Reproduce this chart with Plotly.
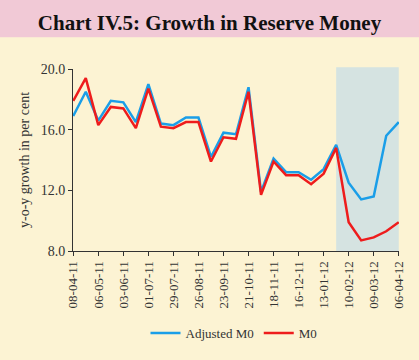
import plotly.graph_objects as go

dates = ["08-04-11", "22-04-11", "06-05-11", "20-05-11", "03-06-11", "17-06-11",
         "01-07-11", "15-07-11", "29-07-11", "12-08-11", "26-08-11", "09-09-11",
         "23-09-11", "07-10-11", "21-10-11", "04-11-11", "18-11-11", "02-12-11",
         "16-12-11", "30-12-11", "13-01-12", "27-01-12", "10-02-12", "24-02-12",
         "09-03-12", "23-03-12", "06-04-12"]
adjusted_m0 = [16.9, 18.5, 16.6, 17.9, 17.8, 16.5, 19.0, 16.4, 16.3, 16.8, 16.8, 14.2,
               15.8, 15.7, 18.8, 11.9, 14.1, 13.2, 13.2, 12.7, 13.4, 15.0, 12.5, 11.4,
               11.6, 15.6, 16.5]
m0 = [17.9, 19.4, 16.3, 17.5, 17.4, 16.1, 18.7, 16.2, 16.1, 16.5, 16.5, 13.9,
      15.5, 15.4, 18.5, 11.7, 13.9, 13.0, 13.0, 12.4, 13.1, 14.8, 9.9, 8.7,
      8.9, 9.3, 9.9]
shade_start, shade_end = "27-01-12", "06-04-12"

idx = list(range(len(dates)))
W, H = 419, 360
L, R, T, B = 73, 20, 69, 107
pw, ph = W - L - R, H - T - B

fig = go.Figure()
fig.add_trace(go.Scatter(x=idx, y=adjusted_m0, mode="lines", name="Adjusted M0",
                         line=dict(color="#1a9ee8", width=2.5)))
fig.add_trace(go.Scatter(x=idx, y=m0, mode="lines", name="M0",
                         line=dict(color="#ee1c1c", width=2.5)))

serif = "Liberation Serif, Times New Roman, serif"
fig.update_layout(
    width=W, height=H,
    margin=dict(l=L, r=R, t=T, b=B),
    paper_bgcolor="#fcf3d3",
    plot_bgcolor="rgba(0,0,0,0)",
    font=dict(family=serif, size=13, color="#333333"),
    title=dict(text="<b>Chart IV.5: Growth in Reserve Money</b>",
               x=0.5, xanchor="center", xref="container",
               y=1 - 23 / H, yanchor="middle", yref="container",
               font=dict(family=serif, size=21, color="#111111")),
    showlegend=True,
    legend=dict(orientation="h", x=(234 - L) / pw, xanchor="center",
                y=-(336 - 253) / ph, yanchor="middle",
                bgcolor="rgba(0,0,0,0)", font=dict(size=13, color="#333333"),
                itemwidth=30, tracegroupgap=0),
    shapes=[
        dict(type="rect", xref="paper", yref="paper",
             x0=-L / pw - 0.01, x1=1 + R / pw + 0.01,
             y0=1 + (T - 37) / ph, y1=1 + T / ph + 0.01,
             fillcolor="#f1c9d6", line=dict(width=0), layer="below"),
        dict(type="rect", xref="x", yref="paper",
             x0=dates.index(shade_start), x1=dates.index(shade_end),
             y0=0, y1=1.01,
             fillcolor="#d5e3e1", line=dict(width=0), layer="below"),
    ],
)
fig.update_xaxes(range=[-0.02, 26.02], tickmode="array",
                 tickvals=idx[::2], ticktext=dates[::2], tickangle=-90,
                 ticks="outside", ticklen=4, tickcolor="#333333",
                 showline=True, linecolor="#333333", linewidth=1,
                 showgrid=False, zeroline=False,
                 tickfont=dict(family=serif, size=13, color="#333333"))
fig.update_yaxes(range=[8, 20], tickmode="linear", tick0=8, dtick=4,
                 tickformat=".1f",
                 ticks="outside", ticklen=4, tickcolor="#333333",
                 showline=True, linecolor="#333333", linewidth=1,
                 showgrid=False, zeroline=False,
                 title=dict(text="y-o-y growth in per cent", standoff=7,
                            font=dict(family=serif, size=14, color="#333333")),
                 tickfont=dict(family=serif, size=14, color="#333333"))

fig.write_html("out.html", config={"displayModeBar": False},
               post_script="document.body.style.margin='0';document.body.style.padding='0';")
